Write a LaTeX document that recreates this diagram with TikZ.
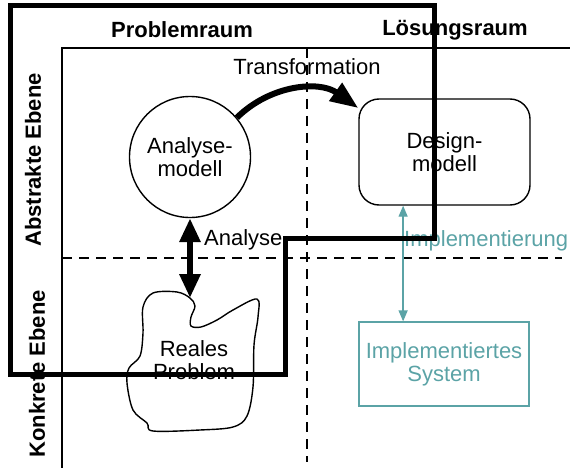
\documentclass[tikz,border=0pt]{standalone}
\usepackage{fontspec}
\setmainfont{Liberation Sans}
\definecolor{petrol}{HTML}{5BA3A6}
\usetikzlibrary{calc, arrows.meta}

\begin{document}
\begin{tikzpicture}[x=1pt, y=-1pt,
  txt/.style={font=\fontsize{22}{23}\selectfont, align=center, inner sep=0pt},
  head/.style={font=\fontsize{22}{23}\selectfont\bfseries, inner sep=0pt},
  grid/.style={line width=1.4pt},
  sep/.style={line width=1.4pt, dash pattern=on 10pt off 7pt}]
  \useasboundingbox (0,0) rectangle (570,468);
  % Raster
  \draw[grid] (62,468) -- (62,48) -- (570,48);
  \draw[sep] (62,258) -- (562,258);
  \draw[sep] (307,48) -- (307,462);
  \node[head] (prob) at (182,30) {Problemraum};
  \node[head] (loes) at (455,30) {Lösungsraum};
  \node[head, rotate=90] (abstr) at (33,160) {Abstrakte Ebene};
  \node[head, rotate=90] (konkr) at (37,374) {Konkrete Ebene};

  % Modelle
  \node[txt, draw, circle, line width=1.4pt, minimum size=121pt] (amodel) at (190,157) {Analyse-\\modell};
  \node[txt, draw, rounded corners=20pt, minimum width=171pt, minimum height=106pt, line width=1.4pt] (dmodel) at (444.5,152) {Design-\\modell};
  \node[txt, draw=petrol, text=petrol, minimum width=170pt, minimum height=84pt, line width=1.2pt] (isys) at (444,364) {Implementiertes\\System};

  % Reales Problem
  \draw[line width=1.4pt] plot[smooth cycle, tension=0.55] coordinates {(190,298) (195,306) (191,317) (191,326) (201,327) (217,320) (233,310) (257,299) (258,317) (254,345) (253,387) (247,416) (233,427) (200,430) (153,431) (147,423) (133,410) (127,383) (129,368) (140,356) (143,333) (143,307) (153,293) (177,292)};
  \coordinate (rtip) at (190,298);
  \node[txt] (reales) at (194,360) {Reales\\Problem};

  % Pfeile
  \draw[line width=6pt, -{Triangle[length=28pt,width=21pt]}] (amodel.40) to[bend left=40] (dmodel.153);
  \node[txt] (trans) at (307,67) {Transformation};
  \draw[line width=6.5pt, {Triangle[length=24pt,width=20pt]}-{Triangle[length=24pt,width=20pt]}] (amodel.south) -- (rtip);
  \node[txt, anchor=west] (ana) at (204,240) {Analyse};
  \coordinate (itop) at ($(dmodel.south west)!0.26!(dmodel.south east)$);
  \draw[petrol, line width=1.4pt, {Triangle[length=11pt,width=9pt]}-{Triangle[length=11pt,width=9pt]}] (itop) -- (itop |- isys.north);
  \node[txt, text=petrol, anchor=west] (impl) at (404,241) {Implementierung};

  % Rahmen
  \draw[line width=5pt] (10,5.5) -- (434,5.5) -- (434,238) -- (285,238) -- (285,374.5) -- (10,374.5) -- cycle;
\end{tikzpicture}
\end{document}
